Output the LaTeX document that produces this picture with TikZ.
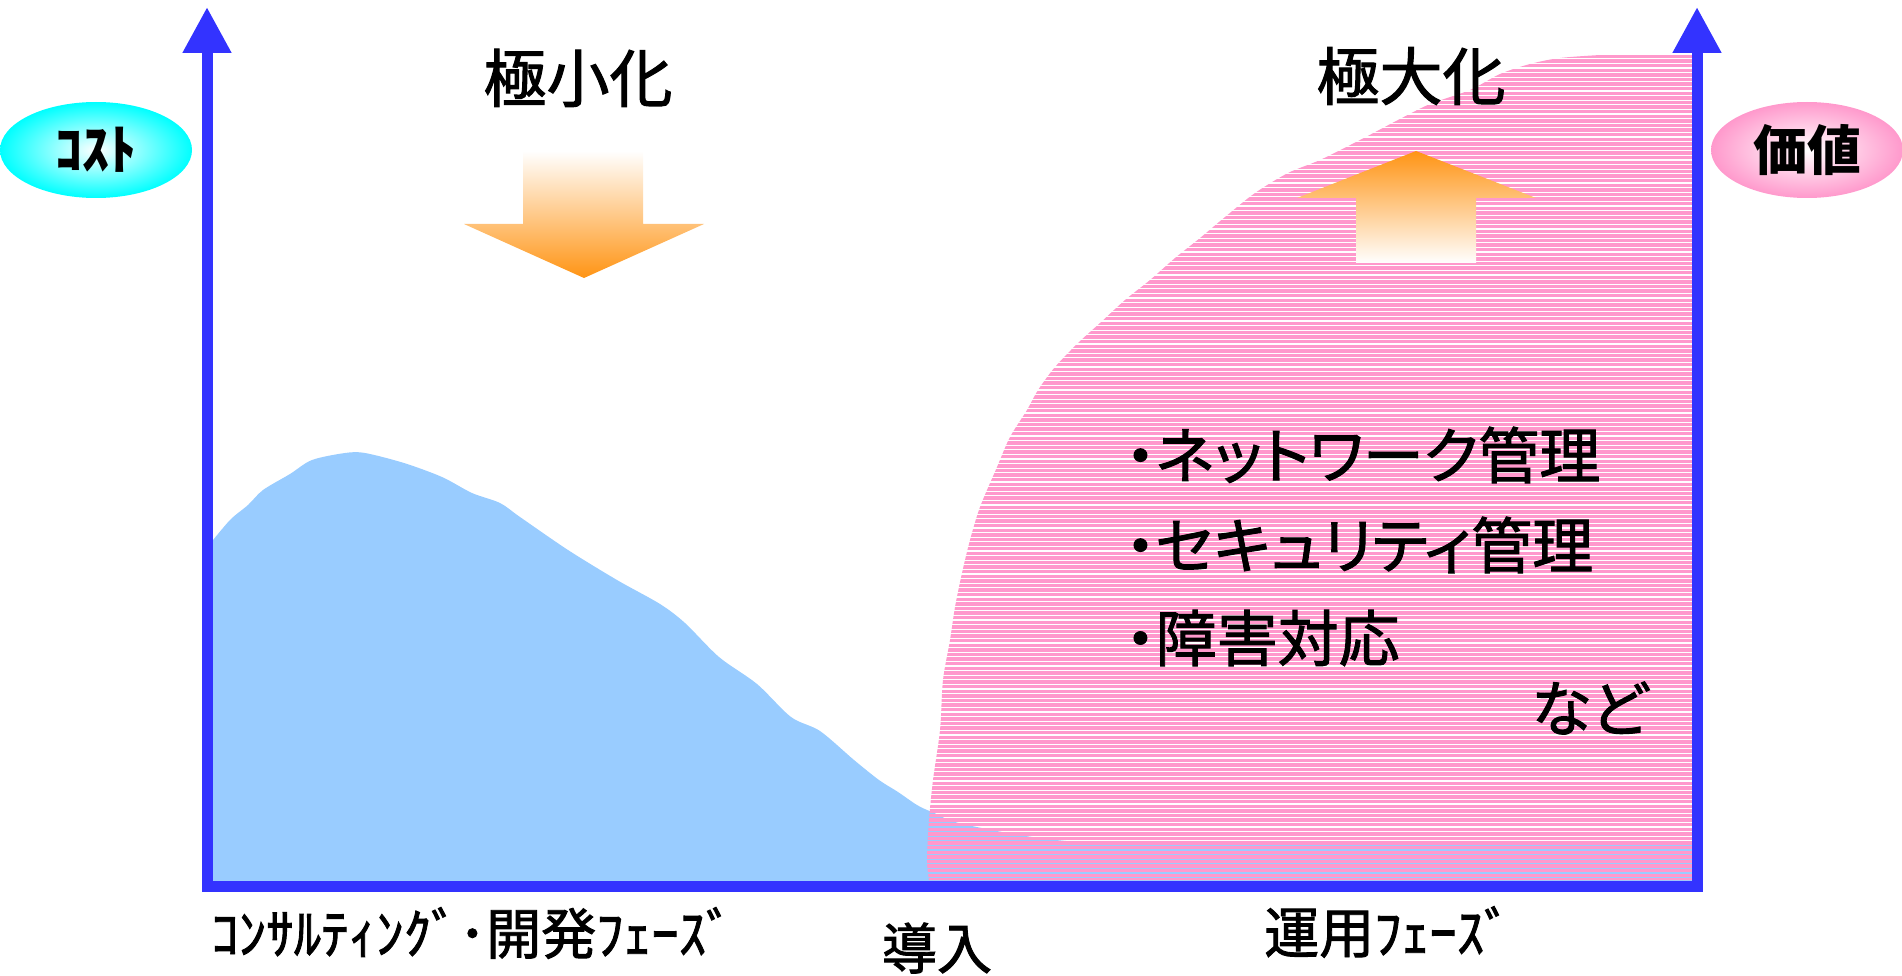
\documentclass[tikz,border=0pt]{standalone}
\usepackage{fontspec}
\setmainfont{Noto Sans CJK JP}
\newfontfamily\jpmed[FakeBold=1.6]{Noto Sans CJK JP}
\newfontfamily\jpprop[RawFeature=+palt, FakeBold=1.6]{Noto Sans CJK JP}
\usepackage{tikz}
\usetikzlibrary{shapes.geometric,arrows.meta,positioning}

\definecolor{axisblue}{RGB}{51,51,255}
\definecolor{costblue}{RGB}{153,204,255}
\definecolor{valuepink}{RGB}{255,153,204}
\definecolor{arroworange}{RGB}{255,148,20}
\definecolor{badgecyan}{RGB}{0,255,255}

\begin{document}
\begin{tikzpicture}[
    x=1pt, y=-1pt,
    axis/.style={draw=axisblue, line width=11pt, line join=miter, <->, >={Triangle[length=46pt, width=46pt]}},
    stripe/.style={draw=valuepink, line width=3.5pt},
    badge/.style={ellipse, minimum width=192pt, minimum height=96pt, inner sep=0pt, font=\bfseries\fontsize{54}{54}\selectfont},
    titletext/.style={inner sep=0pt, font=\jpmed\fontsize{63}{63}\selectfont},
    itemtext/.style={inner sep=0pt, anchor=west, font=\jpprop\fontsize{61}{61}\selectfont},
    phasetext/.style={inner sep=0pt, font=\jpmed\fontsize{55}{55}\selectfont}
]
\useasboundingbox (0,0) rectangle (1902,976);

% Axis corners
\coordinate (ytop) at (207,7);
\coordinate (origin) at (207,886);
\coordinate (xend) at (1697,886);
\coordinate (vtop) at (1697,7);

% Cost curve
\fill[costblue] (209,884) -- plot[smooth] coordinates {(209,545) (230,520) (248,505) (263,490) (290,474) (312,460) (345,453) (365,453) (404,463) (442,477) (472,493) (500,503) (520,517) (568,550) (617,580) (660,604) (685,623) (719,657) (757,684) (791,717) (820,731) (854,760) (879,780) (898,792) (917,805) (932,812) (967,825) (1080,842) (1300,844) (1692,845)} -- (1692,884) -- cycle;

% Value area (striped)
\begin{scope}
\clip (1692,55) -- (1600,55) -- plot[smooth] coordinates {(1600,55) (1560,58) (1530,64) (1500,74) (1470,90) (1430,104) (1398,120) (1360,140) (1320,160) (1288,173) (1255,193) (1225,217) (1200,238) (1175,258) (1150,280) (1125,300) (1100,323) (1078,343) (1055,367) (1038,390) (1027,410) (1010,437) (997,467) (980,507) (970,540) (962,573) (955,607) (950,640) (943,680) (940,730) (933,780) (929,820) (927,860) (929,880)} -- (1692,880) -- cycle;
\foreach \sy in {56.5,61.1,...,884} \draw[stripe] (900,\sy) -- (1700,\sy);
\end{scope}

% Axes
\draw[axis] (ytop) -- (origin) -- (xend) -- (vtop);

% Badges
\node[badge, inner color=white, outer color=badgecyan] (cost) at (96,150) {ｺｽﾄ};
\node[badge, inner color=white, outer color=valuepink] (value) at (1807,150) {価値};

% Shaded arrows
\shade[top color=white, bottom color=arroworange] (523,151) -- (643,151) -- (643,224) -- (704,224) -- (584,278) -- (464,224) -- (523,224) -- cycle;
\shade[top color=arroworange, bottom color=white] (1416,151) -- (1536,198) -- (1476,198) -- (1476,263) -- (1356,263) -- (1356,198) -- (1297,198) -- cycle;

% Titles
\node[titletext] (minimize) at (578,78) {極小化};
\node[titletext] (maximize) at (1411,76) {極大化};

% Operation items
\node[itemtext] (network) at (1125,455) {・ネットワーク管理};
\node[itemtext] (security) at (1125,545) {・セキュリティ管理};
\node[itemtext] (failure) at (1125,638) {・障害対応};
\node[itemtext] (etc) at (1531,708) {など};

% Phases
\node[phasetext, anchor=west] (devphase) at (211,933) {ｺﾝｻﾙﾃｨﾝｸﾞ･開発ﾌｪｰｽﾞ};
\node[phasetext] (intro) at (937,948) {導入};
\node[phasetext] (opsphase) at (1388,932) {運用ﾌｪｰｽﾞ};

\end{tikzpicture}
\end{document}
